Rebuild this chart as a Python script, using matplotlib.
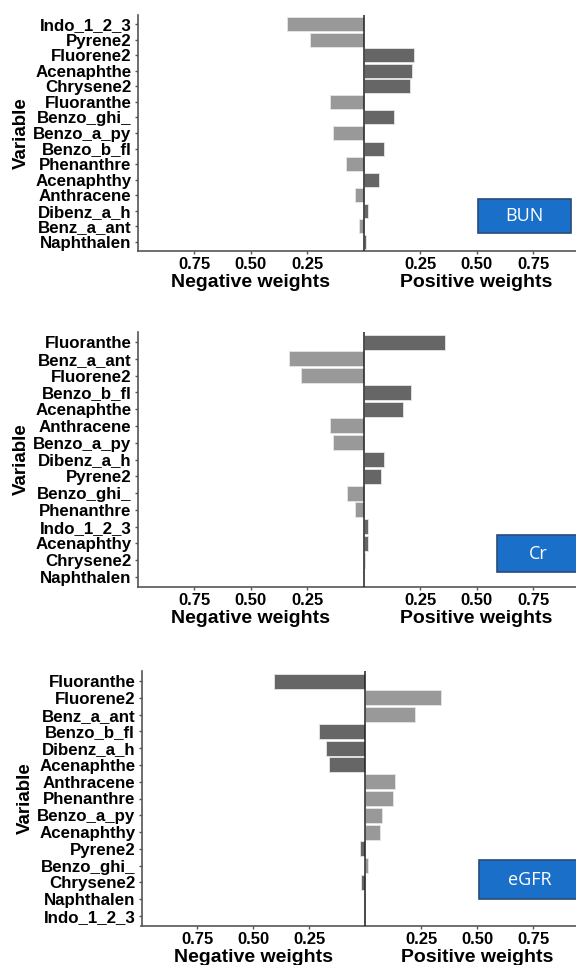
import numpy as np
import matplotlib
matplotlib.use("Agg")
import matplotlib.pyplot as plt
from matplotlib.patches import Rectangle

plt.rcParams['font.family'] = ['Liberation Sans', 'DejaVu Sans']
plt.rcParams['font.weight'] = 'bold'

# data: variables listed top to bottom, weights (negative = left)
bun_vars = ["Indo_1_2_3", "Pyrene2", "Fluorene2", "Acenaphthe", "Chrysene2", "Fluoranthe",
            "Benzo_ghi_", "Benzo_a_py", "Benzo_b_fl", "Phenanthre", "Acenaphthy", "Anthracene",
            "Dibenz_a_h", "Benz_a_ant", "Naphthalen"]
bun_vals = [-0.341, -0.239, 0.224, 0.215, 0.205, -0.148, 0.135, -0.138, 0.089, -0.078,
            0.070, -0.037, 0.021, -0.021, 0.010]

cr_vars = ["Fluoranthe", "Benz_a_ant", "Fluorene2", "Benzo_b_fl", "Acenaphthe", "Anthracene",
           "Benzo_a_py", "Dibenz_a_h", "Pyrene2", "Benzo_ghi_", "Phenanthre", "Indo_1_2_3",
           "Acenaphthy", "Chrysene2", "Naphthalen"]
cr_vals = [0.358, -0.330, -0.276, 0.208, 0.176, -0.151, -0.137, 0.088, 0.078, -0.075,
           -0.039, 0.020, 0.020, 0.008, 0.001]

egfr_vars = ["Fluoranthe", "Fluorene2", "Benz_a_ant", "Benzo_b_fl", "Dibenz_a_h", "Acenaphthe",
             "Anthracene", "Phenanthre", "Benzo_a_py", "Acenaphthy", "Pyrene2", "Benzo_ghi_",
             "Chrysene2", "Naphthalen", "Indo_1_2_3"]
egfr_vals = [-0.410, 0.336, 0.223, -0.208, -0.174, -0.161, 0.130, 0.125, 0.075, 0.067,
             -0.026, 0.013, -0.020, -0.007, -0.007]

tick_vals = [-0.75, -0.5, -0.25, 0.25, 0.5, 0.75]
tick_labels = ["0.75", "0.50", "0.25", "0.25", "0.50", "0.75"]

light = "#999999"
dark = "#666666"

W, H = 576, 965
fig = plt.figure(figsize=(W / 100, H / 100), dpi=100)

# (vars, vals, neg colour, pos colour, left px, top px, bottom px, label, box px, text px)
panels = [
    (bun_vars, bun_vals, light, dark, 137.8, 15, 251, "BUN", (478, 199, 571, 233), (524.5, 216)),
    (cr_vars, cr_vals, light, dark, 137.8, 332, 587, "Cr", (497, 535, 580, 572), (538, 554)),
    (egfr_vars, egfr_vals, dark, light, 141.5, 671, 926, "eGFR", (479, 860, 580, 899), (530, 880)),
]

for names, vals, cneg, cpos, left, top, bottom, lab, box, tpos in panels:
    ax = fig.add_axes([left / W, 1 - bottom / H, (W - left) / W, (bottom - top) / H])
    n = len(names)
    y = np.arange(n, 0, -1)
    cols = [cneg if v < 0 else cpos for v in vals]
    ax.barh(y, vals, height=0.9, color=cols, edgecolor="#e6e6e6", linewidth=0.6, zorder=2)
    ax.axvline(0, color="#222222", lw=1.1, zorder=3)
    ax.set_xlim(-1.0, 0.94)
    ax.set_ylim(0.4, n + 0.6)
    ax.set_yticks(y)
    ax.set_yticklabels(names, fontsize=12.2, fontweight="bold")
    ax.set_xticks(tick_vals)
    ax.set_xticklabels(tick_labels, fontsize=12, fontweight="bold")
    for s in ["top", "right"]:
        ax.spines[s].set_visible(False)
    for s in ["left", "bottom"]:
        ax.spines[s].set_color("#555555")
        ax.spines[s].set_linewidth(1.2)
    ax.tick_params(axis="y", length=2.5, width=1, color="#555555", pad=2)
    ax.tick_params(axis="x", length=2.5, width=1, color="#555555", pad=1.5)
    ax.annotate("Negative weights", xy=(-0.5, 0), xycoords=("data", "axes fraction"),
                xytext=(0, -22.5), textcoords="offset points", ha="center", va="center",
                fontsize=14, fontweight="bold")
    ax.annotate("Positive weights", xy=(0.5, 0), xycoords=("data", "axes fraction"),
                xytext=(0, -22.5), textcoords="offset points", ha="center", va="center",
                fontsize=14, fontweight="bold")
    fig.text((left - 116) / W, 1 - (top + bottom) / 2 / H, "Variable", rotation=90,
             ha="center", va="center", fontsize=13.5, fontweight="bold")
    x0, y0, x1, y1 = box
    fig.add_artist(Rectangle((x0 / W, 1 - y1 / H), (x1 - x0) / W, (y1 - y0) / H,
                             transform=fig.transFigure, facecolor="#1a70c8",
                             edgecolor="#2a4a78", linewidth=1.2))
    fig.text(tpos[0] / W, 1 - tpos[1] / H, lab, ha="center", va="center", color="white",
             fontsize=13, fontweight="normal", family="Open Sans")

fig.savefig("out.png", dpi=100)
